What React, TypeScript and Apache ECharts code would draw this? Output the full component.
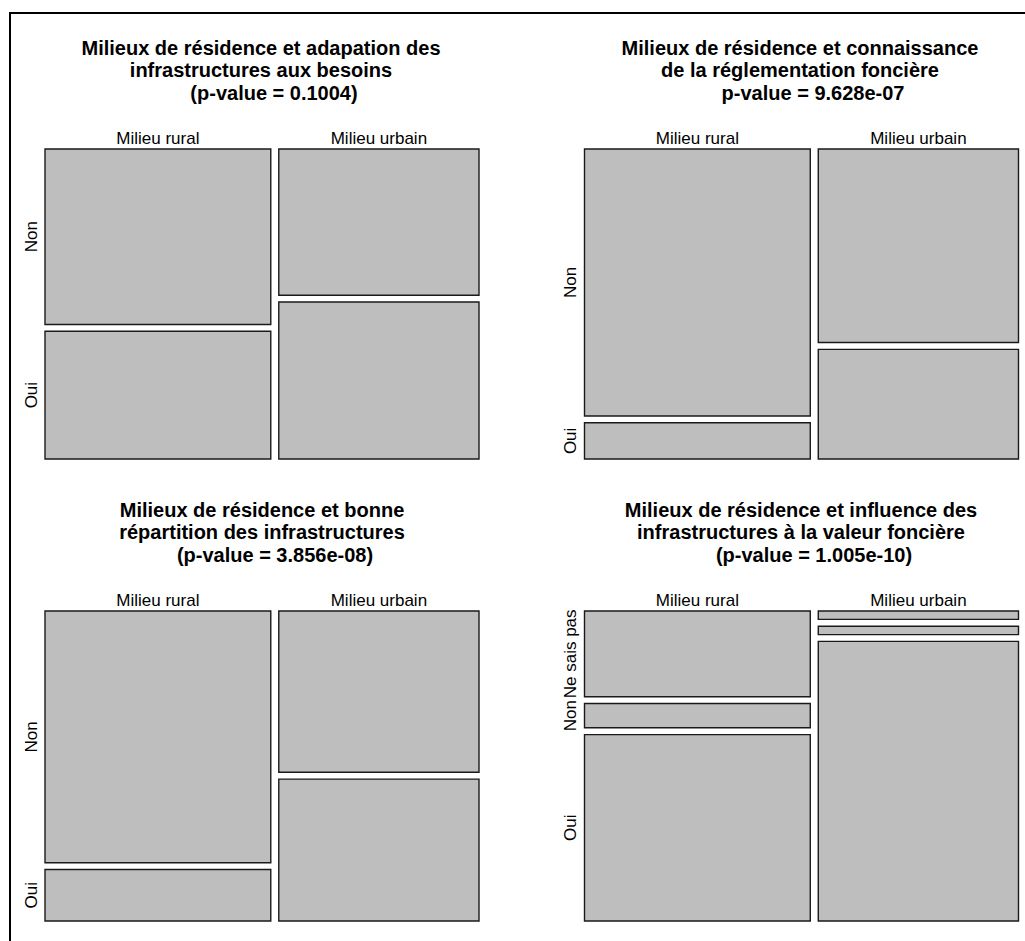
import React, { useEffect, useRef } from "react";
import * as echarts from "echarts";

// ---- Data ----
const COLUMNS = ["Milieu rural", "Milieu urbain"];
const ROWS_2 = ["Non", "Oui"];
const ROWS_3 = ["Ne sais pas", "Non", "Oui"];

// counts per column (rows in order of the row-name arrays)
const adaptRural = [92, 67];
const adaptUrbain = [68, 73];
const reglRural = [140, 19];
const reglUrbain = [90, 51];
const repartRural = [132, 27];
const repartUrbain = [75, 66];
const influRural = [46, 13, 100];
const influUrbain = [4, 4, 133];

const TITLES = [
  ["Milieux de résidence et adapation des", "infrastructures aux besoins", "(p-value = 0.1004)"],
  ["Milieux de résidence et connaissance", "de la réglementation foncière", "p-value = 9.628e-07"],
  ["Milieux de résidence et bonne", "répartition des infrastructures", "(p-value = 3.856e-08)"],
  ["Milieux de résidence et influence des", "infrastructures à la valeur foncière", "(p-value = 1.005e-10)"],
];

const PANELS = [
  { rows: ROWS_2, cols: [adaptRural, adaptUrbain] },
  { rows: ROWS_2, cols: [reglRural, reglUrbain] },
  { rows: ROWS_2, cols: [repartRural, repartUrbain] },
  { rows: ROWS_3, cols: [influRural, influUrbain] },
];

// ---- Layout ----
const FONT = '"Liberation Sans", Arial, sans-serif';
const GRID_W = 434;
const GRID_H = 310;
const GRIDS = [
  { left: 45, top: 149 },
  { left: 584.5, top: 149 },
  { left: 45, top: 611 },
  { left: 584.5, top: 611 },
];
const GAP_X = 8 / GRID_W;
const GAP_Y = 6.8 / GRID_H;

function mosaicItems(cols: number[][]) {
  const colTotals = cols.map((c) => c.reduce((a, b) => a + b, 0));
  const N = colTotals.reduce((a, b) => a + b, 0);
  const usableX = 1 - GAP_X * (cols.length - 1);
  const items: number[][] = [];
  let x = 0;
  cols.forEach((c, ci) => {
    const w = (usableX * colTotals[ci]) / N;
    const usableY = 1 - GAP_Y * (c.length - 1);
    let y = 0;
    c.forEach((v, ri) => {
      const h = (usableY * v) / colTotals[ci];
      items.push([x, x + w, y, y + h, ci, ri]);
      y += h + GAP_Y;
    });
    x += w + GAP_X;
  });
  return items;
}

export default function App() {
  const ref = useRef<HTMLDivElement>(null);
  useEffect(() => {
    if (!ref.current) return;
    const chart = echarts.init(ref.current, null, { renderer: "svg" });

    const series = PANELS.map((p, pi) => ({
      type: "custom",
      xAxisIndex: pi,
      yAxisIndex: pi,
      data: mosaicItems(p.cols),
      renderItem: (params: any, api: any) => {
        const x0 = api.value(0), x1 = api.value(1), y0 = api.value(2), y1 = api.value(3);
        const ci = api.value(4), ri = api.value(5);
        const a = api.coord([x0, y0]);
        const b = api.coord([x1, y1]);
        const top = Math.min(a[1], b[1]);
        const h = Math.abs(b[1] - a[1]);
        const children: any[] = [
          {
            type: "rect",
            shape: { x: a[0], y: top, width: b[0] - a[0], height: h },
            style: { fill: "#BEBEBE", stroke: "#1a1a1a", lineWidth: 1.4 },
          },
        ];
        if (ri === 0) {
          children.push({
            type: "text",
            x: (a[0] + b[0]) / 2,
            y: top - 11,
            style: {
              text: COLUMNS[ci], x: 0, y: 0,
              align: "center", verticalAlign: "middle",
              textAlign: "center", textVerticalAlign: "middle",
              fontSize: 17, fontFamily: FONT, fill: "#000",
            },
          });
        }
        if (ci === 0) {
          children.push({
            type: "text",
            x: a[0] - 14,
            y: top + h / 2,
            rotation: Math.PI / 2,
            style: {
              text: p.rows[ri], x: 0, y: 0,
              align: "center", verticalAlign: "middle",
              textAlign: "center", textVerticalAlign: "middle",
              fontSize: 17, fontFamily: FONT, fill: "#000",
            },
          });
        }
        return { type: "group", children };
      },
    }));

    const graphics: any[] = [
      {
        type: "rect",
        shape: { x: 10, y: 13, width: 1100, height: 1100 },
        style: { fill: "none", stroke: "#000", lineWidth: 2 },
        silent: true,
      },
    ];
    const titleCenters = [
      { x: 261, y: 47.5 },
      { x: 800, y: 47.5 },
      { x: 262, y: 509.5 },
      { x: 801, y: 509.5 },
    ];
    TITLES.forEach((lines, ti) => {
      lines.forEach((line, li) => {
        graphics.push({
          type: "text",
          x: titleCenters[ti].x + (li === 2 ? 13 : 0),
          y: titleCenters[ti].y + li * 22.5,
          style: {
            text: line,
            align: "center", verticalAlign: "middle",
            textAlign: "center", textVerticalAlign: "middle",
            fontSize: 20, fontWeight: "bold", fontFamily: FONT, fill: "#000",
          },
        });
      });
    });

    chart.setOption({
      animation: false,
      backgroundColor: "#fff",
      grid: GRIDS.map((g) => ({ left: g.left, top: g.top, width: GRID_W, height: GRID_H })),
      xAxis: GRIDS.map((_, i) => ({ type: "value", gridIndex: i, min: 0, max: 1, show: false })),
      yAxis: GRIDS.map((_, i) => ({ type: "value", gridIndex: i, min: 0, max: 1, inverse: true, show: false })),
      series,
      graphic: graphics,
    });
    return () => chart.dispose();
  }, []);
  return (
    <div
      ref={ref}
      style={{ position: "fixed", left: 0, top: 0, width: 1025, height: 941 }}
    />
  );
}
